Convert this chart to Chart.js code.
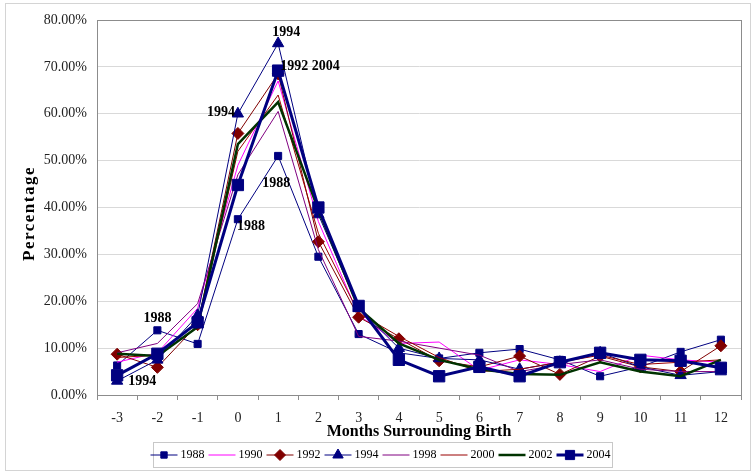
<!DOCTYPE html>
<html>
<head>
<meta charset="utf-8">
<script src="https://cdn.jsdelivr.net/npm/chart.js@4/dist/chart.umd.min.js"></script>
<style>
  html, body { margin: 0; padding: 0; background: #fff; }
  #wrap { position: relative; width: 756px; height: 475px; }
  #frame { position: absolute; left: 5px; top: 3px; width: 744px; height: 466px; border: 1px solid #d4d4d4; pointer-events: none; }
</style>
</head>
<body>
<div id="wrap">
  <canvas id="chart" width="756" height="475"></canvas>
  <div id="frame"></div>
</div>
<script>
const months = ['-3', '-2', '-1', '0', '1', '2', '3', '4', '5', '6', '7', '8', '9', '10', '11', '12'];

const s1988 = [6.3, 13.8, 10.9, 37.5, 51.0, 29.5, 13.0, 9.0, 7.8, 9.0, 9.8, 7.5, 4.0, 6.0, 9.2, 11.8];
const s1990 = [7.0, 9.0, 18.5, 49.0, 67.0, 37.0, 17.0, 11.0, 11.3, 5.3, 7.5, 6.5, 5.0, 8.5, 7.5, 7.0];
const s1992 = [8.7, 5.9, 15.0, 55.8, 68.5, 32.7, 16.6, 12.0, 7.3, 6.0, 8.3, 4.4, 8.3, 6.0, 5.0, 10.5];
const s1994 = [3.0, 7.5, 17.0, 60.0, 75.0, 38.5, 18.5, 10.0, 7.8, 7.5, 5.5, 7.0, 9.0, 6.0, 4.2, 5.0];
const s1998 = [9.0, 11.0, 19.5, 47.0, 60.5, 31.0, 12.5, 11.5, 10.0, 8.5, 5.0, 6.5, 7.5, 5.5, 5.0, 5.0];
const s2000 = [8.0, 8.5, 14.5, 52.0, 64.0, 34.5, 17.5, 12.5, 8.0, 5.0, 5.5, 7.0, 8.5, 6.5, 7.0, 7.5];
const s2002 = [8.8, 8.3, 14.5, 53.5, 62.5, 39.5, 18.5, 11.0, 7.5, 5.5, 4.5, 4.3, 7.0, 5.0, 4.0, 7.5];
const s2004 = [4.2, 8.8, 15.5, 44.8, 69.2, 40.0, 19.0, 7.5, 4.0, 6.0, 4.0, 7.0, 9.0, 7.5, 7.3, 5.8];

const yTicks = [0, 10, 20, 30, 40, 50, 60, 70, 80];

// year labels written next to some points: [series, month index, text, align, dx, dy]
const pointNotes = [
  ['1994', 4, '1994', 'center', 8, -11],
  ['2004', 4, '1992 2004', 'left', 2, -4],
  ['1994', 3, '1994', 'right', -3, -1],
  ['1988', 4, '1988', 'center', -2, 27],
  ['1988', 3, '1988', 'left', -1, 7],
  ['1988', 1, '1988', 'center', 0, -12],
  ['1994', 0, '1994', 'left', 11, 0],
];

const SERIF = '"Liberation Serif", "Times New Roman", serif';

const series = [
  { label: '1988', data: s1988, color: '#000080', width: 1, point: 'rect', radius: 5, legendRadius: 4.5 },
  { label: '1990', data: s1990, color: '#FF00FF', width: 1, point: false, radius: 0 },
  { label: '1992', data: s1992, color: '#800000', width: 1, point: 'rectRot', radius: 6, legendRadius: 5.5 },
  { label: '1994', data: s1994, color: '#000080', width: 1, point: 'triangle', radius: 6.5, legendRadius: 6 },
  { label: '1998', data: s1998, color: '#800080', width: 1, point: false, radius: 0 },
  { label: '2000', data: s2000, color: '#990000', width: 1, point: false, radius: 0 },
  { label: '2002', data: s2002, color: '#003300', width: 2.5, point: false, radius: 0 },
  { label: '2004', data: s2004, color: '#000080', width: 3, point: 'rect', radius: 8, legendRadius: 6.5 },
];

const datasets = series.map((s, i) => ({
  label: s.label,
  data: s.data,
  borderColor: s.color,
  backgroundColor: s.color,
  borderWidth: s.width,
  pointStyle: s.point,
  pointRadius: s.radius,
  pointBorderWidth: 1,
  pointBorderColor: s.color,
  pointBackgroundColor: s.color,
  tension: 0,
  order: series.length - i,
}));

const plotFrame = {
  id: 'plotFrame',
  beforeDatasetsDraw(chart) {
    const { ctx, chartArea: a } = chart;
    ctx.save();
    ctx.strokeStyle = '#8c8c8c';
    ctx.lineWidth = 1;
    ctx.strokeRect(Math.round(a.left) + 0.5, Math.round(a.top) + 0.5,
      Math.round(a.right - a.left), Math.round(a.bottom - a.top));
    // y axis title, spaced out like the original
    ctx.font = 'bold 17px ' + SERIF;
    ctx.letterSpacing = '1.5px';
    ctx.fillStyle = '#000';
    ctx.textAlign = 'center';
    ctx.textBaseline = 'middle';
    ctx.translate(30, (a.top + a.bottom) / 2 + 6);
    ctx.rotate(-Math.PI / 2);
    ctx.fillText('Percentage', 0, 0);
    ctx.restore();
  },
};

const notes = {
  id: 'notes',
  afterDatasetsDraw(chart) {
    const { ctx } = chart;
    ctx.save();
    ctx.font = 'bold 14px ' + SERIF;
    ctx.fillStyle = '#000';
    ctx.textBaseline = 'middle';
    for (const [name, idx, text, align, dx, dy] of pointNotes) {
      const di = series.findIndex((s) => s.label === name);
      const pt = chart.getDatasetMeta(di).data[idx];
      ctx.textAlign = align;
      ctx.fillText(text, pt.x + dx, pt.y + dy);
    }
    ctx.restore();
  },
};

const boxLegend = {
  id: 'boxLegend',
  afterDraw(chart) {
    const { ctx } = chart;
    ctx.save();
    ctx.font = '12px ' + SERIF;
    const sample = 27;
    const gap = 3;
    const after = 4;
    const widths = series.map((s) => sample + gap + ctx.measureText(s.label).width + after);
    const total = widths.reduce((a, b) => a + b, 0);
    const left = 153;
    const top = 442;
    const w = 459;
    const h = 25;
    const pad = (w - total) / 2;
    ctx.fillStyle = '#fff';
    ctx.fillRect(left, top, w, h);
    ctx.strokeStyle = '#c8c8c8';
    ctx.lineWidth = 1;
    ctx.strokeRect(left + 0.5, top + 0.5, w, h);
    let x = left + pad;
    const cy = top + h / 2 + 0.5;
    series.forEach((s, i) => {
      ctx.strokeStyle = s.color;
      ctx.lineWidth = s.width;
      ctx.beginPath();
      ctx.moveTo(x, cy);
      ctx.lineTo(x + sample, cy);
      ctx.stroke();
      if (s.point) {
        ctx.fillStyle = s.color;
        ctx.lineWidth = 1;
        Chart.helpers.drawPoint(ctx, {
          pointStyle: s.point,
          radius: s.legendRadius,
          borderWidth: 1,
        }, x + sample / 2, cy);
      }
      ctx.fillStyle = '#000';
      ctx.textBaseline = 'middle';
      ctx.textAlign = 'left';
      ctx.fillText(s.label, x + sample + gap, cy);
      x += widths[i];
    });
    ctx.restore();
  },
};

new Chart(document.getElementById('chart'), {
  type: 'line',
  data: { labels: months, datasets },
  plugins: [plotFrame, notes, boxLegend],
  options: {
    responsive: false,
    animation: false,
    devicePixelRatio: 1,
    layout: { padding: { left: 0, right: 15, top: 20, bottom: 0 } },
    plugins: { legend: { display: false }, tooltip: { enabled: false } },
    scales: {
      x: {
        type: 'category',
        offset: true,
        afterFit(scale) { scale.height = 80; },
        grid: { drawOnChartArea: false, drawTicks: true, tickLength: 5, color: '#8c8c8c', offset: true },
        border: { color: '#8c8c8c' },
        ticks: { color: '#222', padding: 10, font: { family: SERIF, size: 14 }, maxRotation: 0 },
        title: {
          display: true,
          text: 'Months Surrounding Birth',
          color: '#000',
          font: { family: SERIF, size: 16, weight: 'bold' },
          padding: { top: 0, bottom: 34 },
        },
      },
      y: {
        min: 0,
        max: 80,
        afterFit(scale) { scale.width = 97; },
        afterBuildTicks(scale) { scale.ticks = yTicks.map((v) => ({ value: v })); },
        grid: { color: '#d9d9d9', drawTicks: false },
        border: { color: '#8c8c8c' },
        ticks: {
          color: '#222',
          padding: 10,
          font: { family: SERIF, size: 14 },
          callback: (v) => v.toFixed(2) + '%',
        },
      },
    },
  },
});
</script>
</body>
</html>
